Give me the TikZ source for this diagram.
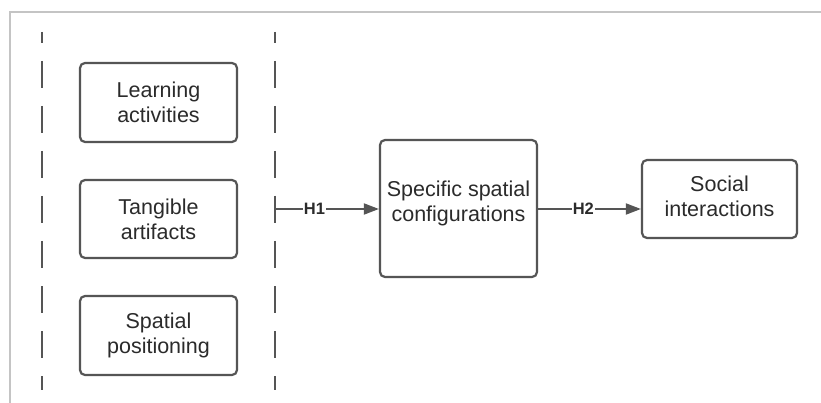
\documentclass[tikz,border=0pt]{standalone}
\usepackage{fontspec}
\setmainfont{Liberation Sans}
\usetikzlibrary{arrows.meta}
\definecolor{ln}{HTML}{555555}
\definecolor{tx}{HTML}{2B2B2B}
\definecolor{fr}{HTML}{C4C4C4}
\begin{document}
\begin{tikzpicture}[x=1pt,y=-1pt,
  box/.style={draw=ln, line width=2.2pt, rounded corners=5pt, align=center,
    text=tx, font=\fontsize{21.5}{25}\selectfont, inner sep=0pt},
  boxtext/.style={align=center, text=tx, font=\fontsize{21.5}{25}\selectfont, inner sep=0pt},
  sepline/.style={draw=ln, line width=2.2pt, dash pattern=on 27pt off 18pt, dash phase=16pt},
  conn/.style={draw=ln, line width=1.8pt, -{Triangle[length=15pt,width=11pt]}},
  hlabel/.style={fill=white, text=tx, font=\bfseries\fontsize{16.5}{18}\selectfont, inner sep=1pt}]
\useasboundingbox (0,0) rectangle (821,403);
\fill[white] (0,0) rectangle (821,403);
% frame
\draw[fr, line width=1.2pt] (10,403) -- (10,12) -- (821,12);
% dashed separators
\coordinate (l1) at (42,32); \coordinate (l2) at (42,390);
\coordinate (r1) at (275,32); \coordinate (r2) at (275,390);
\draw[sepline] (l1) -- (l2);
\draw[sepline] (r1) -- (r2);
% boxes
\node[box, minimum width=157pt, minimum height=79pt] (la) at (158.5,102.5) {Learning\\activities};
\node[box, minimum width=157pt, minimum height=78pt] (ta) at (158.5,219) {Tangible\\artifacts};
\node[box, minimum width=157pt, minimum height=79pt] (sp) at (158.5,335.5) {Spatial\\positioning};
\node[box, minimum width=157pt, minimum height=137pt] (sc) at (458.5,208.5) {};
\node[boxtext] (sct) at (458.5,203) {Specific spatial\\configurations};
\node[box, minimum width=155pt, minimum height=78pt] (si) at (719.5,199) {};
\node[boxtext] (sit) at (719.5,196) {Social\\interactions};
% connectors
\coordinate (h1s) at (275,209);
\draw[ln, line width=2.2pt] (275,196) -- (275,222);
\draw[conn] (h1s) -- (sc.west |- h1s) node[hlabel, pos=0.38] {H1};
\draw[conn] (sc.east |- h1s) -- (si.west |- h1s) node[hlabel, pos=0.44] {H2};
\end{tikzpicture}
\end{document}
